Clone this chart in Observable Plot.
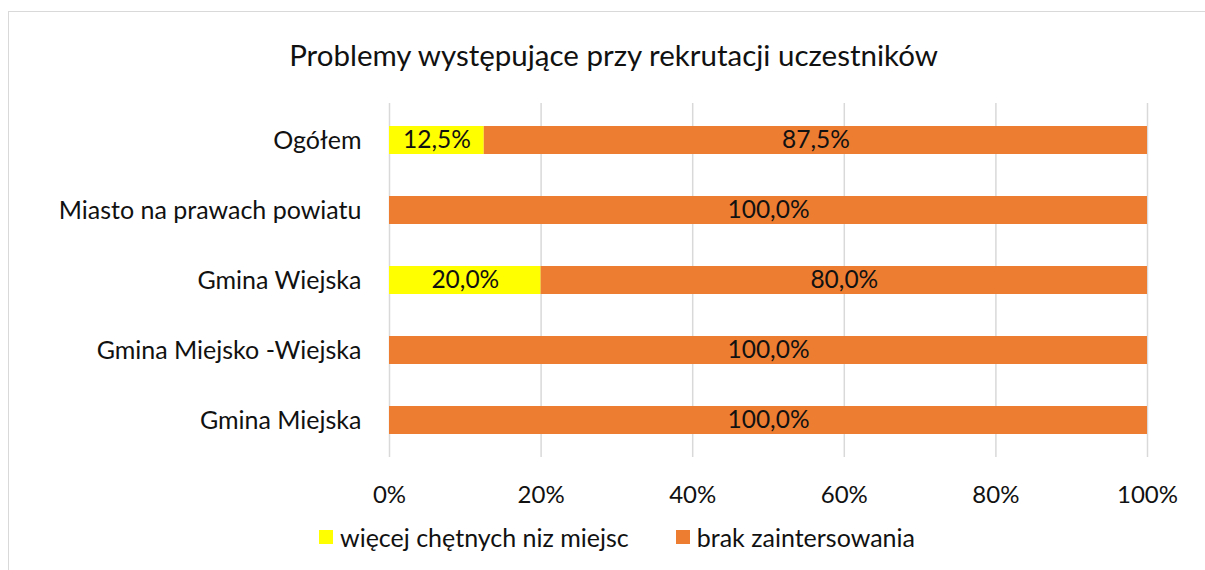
<!DOCTYPE html>
<html>
<head>
<meta charset="utf-8">
<script src="https://cdn.jsdelivr.net/npm/d3@7"></script>
<script src="https://cdn.jsdelivr.net/npm/@observablehq/plot@0.6"></script>
<style>
  html, body { margin: 0; padding: 0; background: #fff; }
  #wrap { position: relative; width: 1205px; height: 570px; overflow: hidden; background: #fff; font-family: Lato, sans-serif; color: #111; }
  #frame { position: absolute; left: 8px; top: 11px; width: 1300px; height: 700px; border-left: 1.5px solid #d9d9d9; border-top: 1.5px solid #d9d9d9; }
  #title { position: absolute; left: 0; width: 1227px; top: 34px; text-align: center; font-size: 29.5px; line-height: 42px; white-space: nowrap; }
  #chart { position: absolute; left: 0; top: 80px; }
  #legend { position: absolute; left: 0; width: 1234px; top: 522px; display: flex; justify-content: center; gap: 47px; font-size: 25px; line-height: 30px; white-space: nowrap; }
  .item { display: flex; align-items: center; }
  .sw { width: 14px; height: 14px; margin-right: 7px; display: inline-block; }
</style>
</head>
<body>
<div id="wrap">
  <div id="frame"></div>
  <div id="title"></div>
  <div id="chart"></div>
  <div id="legend"></div>
</div>
<script>
const titleText = "Problemy występujące przy rekrutacji uczestników";
const categories = ["Ogółem", "Miasto na prawach powiatu", "Gmina Wiejska", "Gmina Miejsko -Wiejska", "Gmina Miejska"];
const series = ["więcej chętnych niz miejsc", "brak zaintersowania"];
const colors = ["#FFFF00", "#ED7D31"];
const wiecej = [12.5, 0, 20.0, 0, 0];
const brak = [87.5, 100.0, 80.0, 100.0, 100.0];
const xTicks = [0, 20, 40, 60, 80, 100];

const values = [wiecej, brak];
const rows = [];
series.forEach((s, si) => categories.forEach((c, ci) => rows.push({cat: c, series: s, value: values[si][ci]})));
const labelRows = rows.filter(d => d.value > 0);
const fmt = v => v.toFixed(1).replace(".", ",") + "%";

document.getElementById("title").textContent = titleText;

const chart = Plot.plot({
  width: 1205,
  height: 430,
  marginTop: 23,
  marginBottom: 53,
  marginLeft: 389,
  marginRight: 58,
  style: {fontFamily: "Lato, sans-serif", fontSize: "24px", background: "transparent", color: "#111"},
  x: {domain: [0, 100]},
  y: {domain: categories, paddingInner: 0.6, paddingOuter: 0.3},
  color: {domain: series, range: colors},
  marks: [
    Plot.gridX(xTicks, {stroke: "#d9d9d9", strokeOpacity: 1, strokeWidth: 1.5}),
    Plot.barX(rows, Plot.stackX({y: "cat", x: "value", fill: "series", order: series})),
    Plot.text(labelRows, Plot.stackX({y: "cat", x: "value", z: "series", order: series, text: d => fmt(d.value), fill: "#111", fontSize: 24.5})),
    Plot.axisX(xTicks, {tickSize: 0, tickPadding: 28, tickFormat: d => d + "%", fontSize: 24, label: null}),
    Plot.axisY({tickSize: 0, tickPadding: 28, fontSize: 25, label: null})
  ]
});
document.getElementById("chart").appendChild(chart);

const legend = document.getElementById("legend");
series.forEach((s, i) => {
  const item = document.createElement("div");
  item.className = "item";
  const sw = document.createElement("span");
  sw.className = "sw";
  sw.style.background = colors[i];
  const t = document.createElement("span");
  t.textContent = s;
  item.appendChild(sw);
  item.appendChild(t);
  legend.appendChild(item);
});
</script>
</body>
</html>
